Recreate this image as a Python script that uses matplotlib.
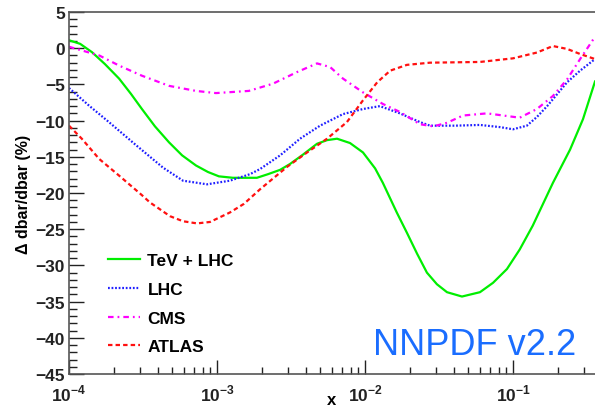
import numpy as np
import matplotlib
matplotlib.use('Agg')
import matplotlib.pyplot as plt
from matplotlib.ticker import LogLocator, MultipleLocator, NullFormatter

plt.rcParams['font.family'] = ['Liberation Sans', 'DejaVu Sans']
plt.rcParams['font.weight'] = 'bold'
plt.rcParams['mathtext.fontset'] = 'custom'
plt.rcParams['mathtext.rm'] = 'Liberation Sans:bold'
plt.rcParams['mathtext.bf'] = 'Liberation Sans:bold'

# TeV + LHC
x_tev = [1.00e-4, 1.19e-4, 1.43e-4, 1.75e-4, 2.18e-4, 2.62e-4, 3.11e-4, 3.81e-4,
         4.74e-4, 5.81e-4, 7.21e-4, 8.69e-4, 1.03e-3, 1.28e-3, 1.64e-3, 1.86e-3,
         2.21e-3, 2.67e-3, 3.11e-3, 3.81e-3, 4.74e-3, 5.54e-3, 6.47e-3, 7.92e-3,
         9.69e-3, 1.17e-2, 1.32e-2, 1.64e-2, 1.92e-2, 2.25e-2, 2.62e-2, 3.06e-2,
         3.58e-2, 4.52e-2, 5.98e-2, 7.33e-2, 9.10e-2, 1.11e-1, 1.36e-1, 1.86e-1,
         2.43e-1, 2.97e-1, 3.58e-1]
y_tev = [1.1, 0.6, -0.55, -2.2, -4.2, -6.3, -8.4, -10.8,
         -13.0, -14.8, -16.2, -17.1, -17.7, -17.9, -17.9, -17.9,
         -17.4, -16.8, -16.0, -14.7, -13.2, -12.7, -12.5, -13.1,
         -14.4, -16.6, -18.6, -22.7, -25.5, -28.4, -31.0, -32.6,
         -33.7, -34.3, -33.7, -32.4, -30.5, -27.8, -24.5, -18.6,
         -14.0, -9.8, -4.6]

# LHC
x_lhc = [1.00e-4, 1.36e-4, 1.86e-4, 2.84e-4, 4.32e-4, 5.89e-4, 8.55e-4, 1.22e-3,
         1.67e-3, 1.95e-3, 2.67e-3, 3.64e-3, 4.97e-3, 7.10e-3, 9.69e-3, 1.26e-2,
         1.72e-2, 2.35e-2, 2.75e-2, 4.06e-2, 5.98e-2, 8.17e-2, 1.00e-1, 1.24e-1,
         1.45e-1, 1.70e-1, 2.32e-1, 2.84e-1, 3.58e-1]
y_lhc = [-5.5, -7.9, -10.2, -13.4, -16.5, -18.3, -18.8, -18.3,
         -17.4, -16.7, -14.8, -12.5, -10.7, -9.1, -8.4, -8.0,
         -9.0, -10.2, -10.7, -10.7, -10.6, -10.9, -11.2, -10.7,
         -9.5, -8.0, -4.7, -3.1, -1.5]

# CMS
x_cms = [1.00e-4, 1.60e-4, 2.18e-4, 3.11e-4, 4.74e-4, 7.21e-4, 9.84e-4, 1.64e-3,
         2.39e-3, 3.47e-3, 4.74e-3, 5.81e-3, 7.10e-3, 9.69e-3, 1.32e-2, 1.72e-2,
         2.35e-2, 2.90e-2, 3.58e-2, 4.59e-2, 6.67e-2, 1.11e-1, 1.45e-1, 1.86e-1,
         2.32e-1, 2.84e-1, 3.48e-1]
y_cms = [0.2, -1.0, -2.4, -3.8, -5.2, -5.9, -6.2, -5.9,
         -4.9, -3.3, -2.1, -2.6, -4.2, -6.1, -7.7, -8.8,
         -10.5, -10.8, -10.3, -9.3, -9.0, -9.6, -8.4, -6.6,
         -4.3, -1.5, 1.2]

# ATLAS
x_atlas = [1.00e-4, 1.22e-4, 1.60e-4, 2.18e-4, 3.11e-4, 3.52e-4, 4.81e-4, 5.89e-4,
           7.33e-4, 8.97e-4, 1.22e-3, 1.52e-3, 1.95e-3, 2.97e-3, 4.06e-3, 5.54e-3,
           7.55e-3, 9.69e-3, 1.21e-2, 1.48e-2, 1.92e-2, 2.75e-2, 5.98e-2, 1.00e-1,
           1.45e-1, 1.86e-1, 2.32e-1, 2.84e-1, 3.58e-1]
y_atlas = [-10.7, -12.5, -15.3, -17.6, -20.3, -21.3, -23.2, -23.9,
           -24.2, -24.0, -22.7, -21.5, -19.5, -16.4, -14.4, -12.5,
           -10.2, -7.2, -4.7, -3.1, -2.3, -2.0, -1.9, -1.4,
           -0.6, 0.3, -0.1, -0.8, -1.5]

fig = plt.figure(figsize=(5.95, 4.10), dpi=100)
ax = fig.add_axes([69 / 595, 35 / 410, 526 / 595, 362 / 410])

ax.plot(x_tev, y_tev, color='#00ee00', lw=1.6, label='TeV + LHC')
ax.plot(x_lhc, y_lhc, color='#2020ff', lw=1.6, linestyle=(0, (0.8, 0.8)), label='LHC')
ax.plot(x_cms, y_cms, color='#ff00ff', lw=1.6, linestyle=(0, (2.5, 1.8, 0.8, 1.8)), label='CMS')
ax.plot(x_atlas, y_atlas, color='#ff1010', lw=1.6, linestyle=(0, (2.0, 1.4)), label='ATLAS')

ax.set_xscale('log')
ax.set_xlim(1e-4, 0.358)
ax.set_ylim(-45, 5)

ax.yaxis.set_major_locator(MultipleLocator(5))
ax.yaxis.set_minor_locator(MultipleLocator(1))
ax.xaxis.set_minor_locator(LogLocator(base=10, subs=np.arange(2, 10), numticks=20))
ax.xaxis.set_minor_formatter(NullFormatter())
ax.set_xticks([1e-4, 1e-3, 1e-2, 1e-1])
ax.set_xticklabels([r'$10^{-4}$', r'$10^{-3}$', r'$10^{-2}$', r'$10^{-1}$'])

ax.tick_params(which='both', direction='in', top=False, right=False, labelsize=12.5, colors='#222222')
ax.tick_params(axis='y', which='major', length=11, width=1, pad=3)
ax.tick_params(axis='y', which='minor', length=6, width=1)
ax.tick_params(axis='x', which='major', length=10, width=1, pad=6)
ax.tick_params(axis='x', which='minor', length=5, width=1)
for lab in ax.get_yticklabels():
    lab.set_fontweight('bold')

for side in ['left', 'bottom', 'top']:
    ax.spines[side].set_color('#555555')
    ax.spines[side].set_linewidth(1.2)
ax.spines['right'].set_visible(False)

ax.set_ylabel('Δ dbar/dbar (%)', fontsize=11.5, fontweight='bold', labelpad=3)
ax.set_xlabel('x', fontsize=12, fontweight='bold', labelpad=-8)

leg = ax.legend(loc='lower left', bbox_to_anchor=(0.06, 0.035), frameon=False,
                fontsize=12.5, handlelength=1.85, handletextpad=0.45, labelspacing=0.78,
                borderaxespad=0)
for t in leg.get_texts():
    t.set_fontweight('bold')

ax.text(0.965, 0.055, 'NNPDF v2.2', transform=ax.transAxes, ha='right', va='baseline',
        fontsize=26, fontweight='normal', color='#1a6dff')

fig.savefig('out.png', dpi=100)
